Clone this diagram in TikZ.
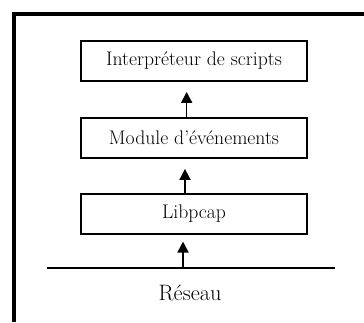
\documentclass[tikz,border=0pt]{standalone}
\usepackage{fontspec}
\usepackage{tikz}
\usetikzlibrary{arrows.meta}
\tikzset{
  couche/.style={draw, line width=1.5pt, minimum width=6.78cm, minimum height=1.2cm,
    inner sep=0pt, font=\fontsize{16.8}{19}\selectfont},
  fleche/.style={-{Triangle[length=0.33cm,width=0.33cm]}, line width=1.4pt, shorten >=0.3cm}
}
\begin{document}
\begin{tikzpicture}
    \useasboundingbox (0,0) rectangle (10.92,9.66);
    \draw[line width=2.6pt] (0.36,9.24) -- (10.92,9.24);  %Rahmen oben
    \draw[line width=3.4pt] (0.42,9.30) -- (0.42,0);  %Rahmen links
    \foreach \name/\y/\txt in
    {
      interp/7.83/Interpréteur de scripts,
      module/5.52/Module d'événements,
      libpcap/3.24/Libpcap
    }
    {
      \node[couche] (\name) at (5.82,\y) {\txt};
    };
    % Netzlinie
    \coordinate (netL) at (1.41,1.62);
    \coordinate (netR) at (10.05,1.62);
    \coordinate (netA) at (5.49,1.62);
    \draw[line width=1.4pt] (netL) -- (netR);
    \node[font=\fontsize{19}{22}\selectfont] (reseau) at (5.70,0.87) {Réseau};
    \foreach \von/\nach/\dx in {module/interp/-0.22, libpcap/module/-0.27}
    {
      \draw[fleche] ([xshift=\dx cm]\von.north) -- ([xshift=\dx cm]\nach.south);
    };
    \draw[fleche, shorten >=0.2cm] (netA) -- (netA |- libpcap.south);
\end{tikzpicture}
\end{document}
